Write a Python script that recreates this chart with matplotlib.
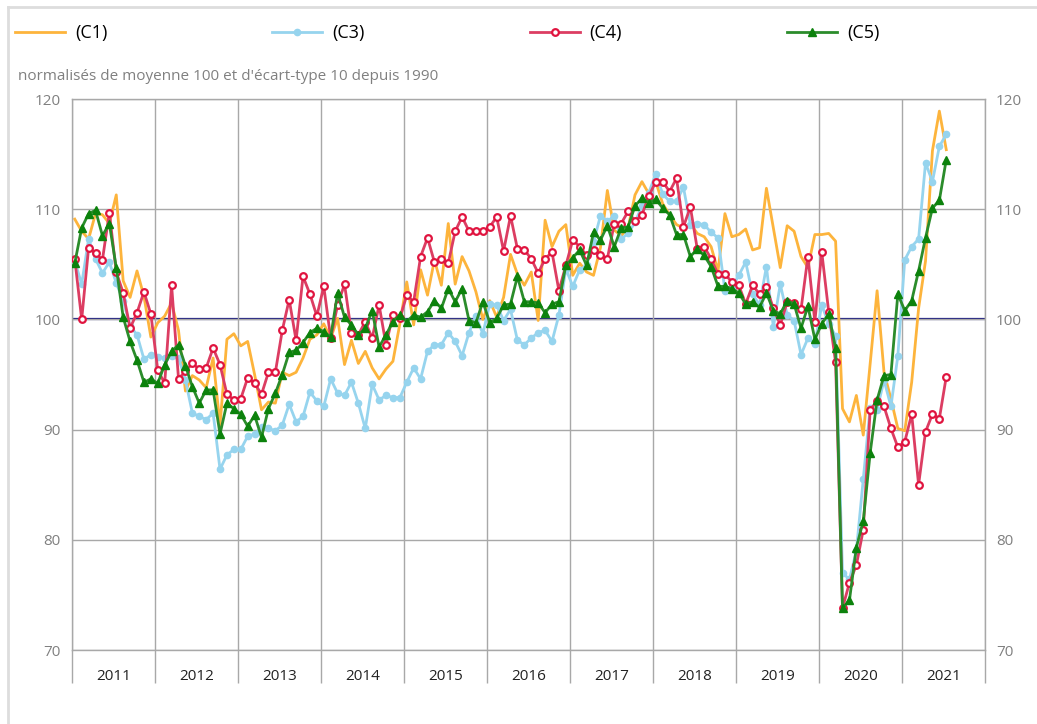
import numpy as np
import matplotlib
matplotlib.use("Agg")
import matplotlib.pyplot as plt
from matplotlib.lines import Line2D

plt.rcParams['font.family'] = ['Open Sans', 'DejaVu Sans']

# monthly values, Jan 2011 -> Jul 2021
c1 = [109.1, 108.0, 107.3, 109.6, 109.5, 108.7, 111.3, 103.5, 102.0, 104.4, 102.1, 98.4,
      99.7, 100.3, 101.5, 99.0, 93.5, 94.9, 94.5, 93.8, 96.5, 90.4, 98.2, 98.7,
      97.6, 98.0, 95.0, 91.8, 92.5, 92.4, 95.2, 94.9, 95.2, 96.5, 98.2, 98.6,
      99.6, 98.3, 100.1, 95.9, 98.1, 96.0, 97.1, 95.6, 94.6, 95.5, 96.2, 99.6,
      103.4, 99.5, 104.5, 102.2, 105.4, 103.1, 108.7, 103.2, 105.7, 104.4, 102.5, 100.0,
      101.7, 100.2, 102.0, 105.9, 104.1, 103.1, 104.3, 99.9, 109.0, 106.6, 108.0, 108.6,
      104.0, 105.1, 104.3, 104.0, 106.5, 111.7, 108.1, 107.6, 108.3, 111.3, 112.5, 111.4,
      112.5, 110.5, 109.5, 108.6, 108.3, 108.7, 107.8, 107.5, 106.6, 104.4, 109.6, 107.5,
      107.7, 108.2, 106.3, 106.5, 111.9, 108.3, 104.7, 108.5, 108.0, 105.7, 104.7, 107.7,
      107.7, 107.8, 107.1, 91.9, 90.7, 93.1, 89.5, 96.0, 102.6, 95.2, 92.8, 90.1,
      89.9, 94.3, 101.0, 105.3, 115.3, 118.9, 115.4]

c3 = [105.3, 103.2, 107.3, 105.5, 104.2, 105.2, 103.3, 101.7, 99.4, 98.6, 96.4, 96.8,
      96.6, 96.5, 96.7, 96.5, 94.5, 91.5, 91.2, 90.9, 91.5, 86.4, 87.7, 88.2,
      88.2, 89.4, 89.6, 90.2, 90.1, 89.9, 90.4, 92.3, 90.7, 91.2, 93.4, 92.6,
      92.1, 94.6, 93.3, 93.1, 94.3, 92.4, 90.1, 94.1, 92.7, 93.1, 92.9, 92.9,
      94.3, 95.6, 94.6, 97.1, 97.7, 97.7, 98.8, 98.0, 96.7, 98.8, 100.3, 98.7,
      101.4, 101.3, 99.9, 100.9, 98.1, 97.7, 98.3, 98.8, 99.0, 98.0, 100.4, 104.6,
      103.0, 104.5, 104.9, 107.0, 109.4, 108.9, 109.4, 107.3, 107.8, 108.8, 110.3, 111.5,
      113.2, 111.4, 110.7, 110.7, 112.0, 108.6, 108.7, 108.6, 107.9, 107.4, 102.6, 102.9,
      104.0, 105.2, 102.3, 101.3, 104.8, 99.3, 103.2, 100.4, 99.9, 96.8, 98.3, 97.8,
      101.3, 99.6, 98.5, 77.0, 76.4, 79.0, 85.5, 92.0, 91.8, 94.5, 92.1, 96.7,
      105.4, 106.6, 107.3, 114.2, 112.5, 115.7, 116.8]

c4 = [105.5, 100.0, 106.5, 106.0, 105.4, 109.7, 104.3, 102.4, 99.2, 100.6, 102.5, 100.5,
      95.4, 94.2, 103.1, 94.6, 95.3, 96.0, 95.5, 95.6, 97.4, 95.9, 93.2, 92.7,
      92.8, 94.7, 94.2, 93.2, 95.2, 95.2, 99.0, 101.8, 98.1, 103.9, 102.3, 100.3,
      103.0, 98.3, 101.3, 103.2, 98.8, 98.6, 99.8, 98.3, 101.3, 97.7, 100.4, 100.1,
      102.2, 101.6, 105.7, 107.4, 105.2, 105.5, 105.1, 108.0, 109.3, 108.0, 108.0, 108.0,
      108.4, 109.3, 106.2, 109.4, 106.4, 106.3, 105.5, 104.2, 105.5, 106.1, 102.6, 104.9,
      107.2, 106.6, 105.8, 106.3, 105.8, 105.5, 108.7, 108.7, 109.8, 108.9, 109.5, 111.2,
      112.5, 112.5, 111.6, 112.8, 108.4, 110.2, 106.4, 106.6, 105.5, 104.1, 104.1, 103.4,
      103.1, 101.4, 103.1, 102.3, 102.9, 101.0, 99.5, 101.6, 101.5, 100.9, 105.7, 99.8,
      106.1, 100.7, 96.1, 73.8, 76.1, 77.7, 80.9, 91.8, 92.6, 92.1, 90.1, 88.4,
      88.9, 91.4, 85.0, 89.8, 91.4, 91.0, 94.8]

c5 = [105.1, 108.3, 109.6, 109.9, 107.6, 108.7, 104.7, 100.2, 98.0, 96.3, 94.3, 94.6,
      94.2, 95.9, 97.1, 97.7, 95.8, 93.9, 92.4, 93.6, 93.6, 89.6, 92.4, 91.9,
      91.4, 90.3, 91.3, 89.3, 91.9, 93.3, 95.0, 97.0, 97.2, 97.9, 98.8, 99.2,
      98.9, 98.4, 102.4, 100.2, 99.5, 98.6, 99.2, 100.8, 97.5, 98.6, 99.8, 100.4,
      99.8, 100.4, 100.2, 100.7, 101.7, 101.0, 102.8, 101.6, 102.8, 99.9, 99.7, 101.6,
      99.7, 100.1, 101.3, 101.4, 103.9, 101.6, 101.6, 101.5, 100.6, 101.4, 101.6, 104.9,
      105.6, 106.3, 104.9, 107.9, 107.2, 108.5, 106.6, 108.3, 108.4, 110.3, 111.0, 110.6,
      110.9, 110.1, 109.5, 107.7, 107.7, 105.7, 106.4, 105.8, 104.8, 103.0, 103.0, 102.8,
      102.4, 101.4, 101.6, 101.1, 102.4, 100.8, 100.5, 101.7, 101.4, 99.2, 101.2, 98.2,
      99.6, 100.5, 97.4, 73.8, 74.5, 79.3, 81.7, 87.9, 92.7, 94.9, 95.0, 102.3,
      100.8, 101.7, 104.4, 107.4, 110.1, 110.8, 114.5]

years = [str(y) for y in range(2011, 2022)]
labels = ['(C1)', '(C3)', '(C4)', '(C5)']
subtitle = "normalisés de moyenne 100 et d'écart-type 10 depuis 1990"

W, H = 1037, 724
fig = plt.figure(figsize=(W / 100, H / 100), dpi=100)
ax = fig.add_axes([72 / W, 1 - 650 / H, 913 / W, 551 / H])

x = np.arange(len(c1)) + 0.4

ax.axhline(100, color='#16167e', lw=1.6, zorder=1.5)
l1, = ax.plot(x, c1, color='#fdb43c', lw=2.0, zorder=2)
l3, = ax.plot(x, c3, color='#96d4ee', lw=2.0, marker='o', ms=4.5, zorder=3)
l4, = ax.plot(x, c4, color='#dc3d62', lw=2.0, marker='o', ms=4.8,
              mfc='white', mec='#e0143f', mew=1.6, zorder=4)
l5, = ax.plot(x, c5, color='#2b8c2b', lw=2.0, marker='^', ms=6,
              mfc='#0c820c', mec='#0c820c', zorder=5)

ax.set_xlim(0, 132)
ax.set_ylim(70, 120)
ax.set_yticks(range(70, 121, 10))
ax.set_xticks(range(0, 133, 12))
ax.set_xticks(np.arange(6, 132, 12), minor=True)
ax.set_xticklabels([])
ax.set_xticklabels(years, minor=True)
ax.grid(True, which='major', color='#a8a8a8', lw=1, zorder=0)

ax.tick_params(axis='x', which='major', length=24, width=1, color='#a8a8a8', direction='out')
ax.tick_params(axis='x', which='minor', length=0, pad=14, labelsize=11, labelcolor='#222222')
ax.tick_params(axis='y', length=0, labelsize=11, labelcolor='#808080',
               labelleft=True, labelright=True, pad=8)
for s in ax.spines.values():
    s.set_color('#a8a8a8')
    s.set_linewidth(1)

fig.text(18 / W, 1 - 76 / H, subtitle, color='#808080', fontsize=11, va='center', ha='left')

fig.legend([l1, l3, l4, l5], labels, loc='upper left', bbox_to_anchor=(15 / W, 1 - 24 / H),
           ncol=4, frameon=False, fontsize=13, handlelength=2.76, handletextpad=0.55,
           columnspacing=9.15, borderpad=0, borderaxespad=0, numpoints=1)

# light frame round the chart
fig.add_artist(Line2D([8 / W, 1], [1 - 7 / H, 1 - 7 / H], transform=fig.transFigure,
                      color='#dddddd', lw=2))
fig.add_artist(Line2D([8 / W, 8 / W], [0, 1 - 7 / H], transform=fig.transFigure,
                      color='#dddddd', lw=2))

fig.savefig('out.png', dpi=100)
